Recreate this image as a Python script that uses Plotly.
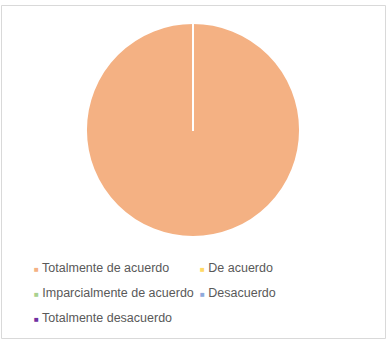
import plotly.graph_objects as go

categories = ["Totalmente de acuerdo", "De acuerdo", "Imparcialmente de acuerdo",
              "Desacuerdo", "Totalmente desacuerdo"]
values = [100, 0, 0, 0, 0]
colors = ["#F4B183", "#FFD966", "#A9D18E", "#8FAADC", "#7030A0"]
legend_rows = ["legend", "legend", "legend2", "legend2", "legend3"]

W, H = 389, 346
MB = 100            # bottom margin; plot area is the top 246 px
PH = H - MB

def py(px):         # pixel row -> paper y (plot area based)
    return (PH - px) / PH

fig = go.Figure()
fig.add_trace(go.Pie(
    labels=categories, values=values, sort=False, direction="clockwise",
    rotation=0, textinfo="none", hoverinfo="label+value",
    marker=dict(colors=colors, line=dict(color="white", width=2)),
    domain=dict(x=[86/W, 300/W], y=[py(237), py(23)]),
    showlegend=False,
))
for name, col, lg in zip(categories, colors, legend_rows):
    fig.add_trace(go.Scatter(
        x=[None], y=[None], mode="markers", legend=lg,
        name=f"<span style='color:{col};font-size:8px'>■</span> {name}",
        marker=dict(symbol="square", size=1, color="rgba(0,0,0,0)"),
    ))

def leg(top_px, two_cols=True):
    d = dict(orientation="h", x=-6/W, xanchor="left", y=py(top_px), yanchor="top",
             bgcolor="rgba(0,0,0,0)",
             font=dict(family="Liberation Sans, Arial, sans-serif", size=12.5, color="#595959"))
    if two_cols:
        d["entrywidth"] = 121
    return d

fig.update_layout(
    width=W, height=H,
    margin=dict(l=0, r=0, t=0, b=MB, autoexpand=False),
    paper_bgcolor="white", plot_bgcolor="white",
    xaxis=dict(visible=False), yaxis=dict(visible=False),
    font=dict(family="Liberation Sans, Arial, sans-serif", size=12.5, color="#595959"),
    legend=leg(252), legend2=leg(277), legend3=leg(302, two_cols=False),
    shapes=[dict(type="rect", xref="paper", yref="paper",
                 x0=1.5/W, x1=385.5/W, y0=py(338.5), y1=py(5.5),
                 line=dict(color="#D9D9D9", width=1))],
)
fig.write_html("out.html")
